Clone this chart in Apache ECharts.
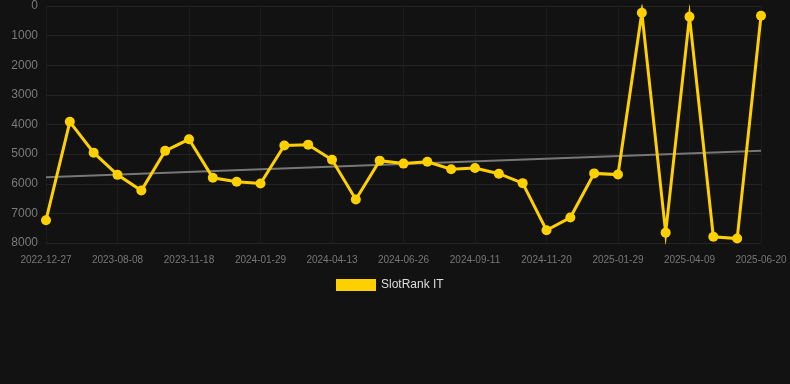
<!DOCTYPE html>
<html>
<head>
<meta charset="utf-8">
<script src="https://cdn.jsdelivr.net/npm/echarts@6/dist/echarts.min.js"></script>
<style>
  html, body { margin: 0; padding: 0; background: #121212; }
  #chart { width: 790px; height: 384px; }
</style>
</head>
<body>
<div id="chart"></div>
<script>
// dates on the x axis (only every third one is shown as a label)
const dates = [
  '2022-12-27', '2023-03-10', '2023-05-24', '2023-08-08', '2023-09-12', '2023-10-15',
  '2023-11-18', '2023-12-12', '2024-01-05', '2024-01-29', '2024-02-22', '2024-03-18',
  '2024-04-13', '2024-05-07', '2024-06-01', '2024-06-26', '2024-07-24', '2024-08-17',
  '2024-09-11', '2024-10-05', '2024-10-28', '2024-11-20', '2024-12-14', '2025-01-06',
  '2025-01-29', '2025-02-21', '2025-03-16', '2025-04-09', '2025-05-03', '2025-05-27',
  '2025-06-20'
]

const rankValues = [
  7230, 3910, 4950, 5700, 6230, 4890, 4500, 5800, 5930, 5990, 4710,
  4680, 5190, 6530, 5220, 5320, 5260, 5510, 5470, 5660, 5980,
  7570, 7140, 5650, 5690, 225, 7650, 360, 7790, 7850, 330
]

// trend line, first and last point
const trendEnds = [5780, 4890]

const trendData = dates.map((d, i) => {
  if (i === 0) return trendEnds[0]
  if (i === dates.length - 1) return trendEnds[1]
  return null
})

const chart = echarts.init(document.getElementById('chart'))

const option = {
  backgroundColor: '#121212',
  animation: false,
  grid: {
    left: 46,
    right: 29,
    top: 6,
    bottom: 141
  },
  legend: {
    data: ['SlotRank IT'],
    top: 279,
    left: 336,
    padding: 0,
    itemWidth: 40,
    itemHeight: 12,
    itemGap: 6,
    icon: 'rect',
    textStyle: {
      color: '#dddddd',
      fontSize: 12,
      fontFamily: 'Liberation Sans, Arial, sans-serif'
    }
  },
  xAxis: {
    type: 'category',
    data: dates,
    boundaryGap: false,
    axisLine: { show: false },
    axisTick: { show: false },
    axisLabel: {
      interval: 2,
      color: '#777777',
      fontSize: 10,
      margin: 12,
      fontFamily: 'Liberation Sans, Arial, sans-serif'
    },
    splitLine: {
      show: true,
      interval: 2,
      lineStyle: { color: '#1c1c1c', width: 1 }
    }
  },
  yAxis: {
    type: 'value',
    inverse: true,
    min: 0,
    max: 8000,
    interval: 1000,
    axisLine: { show: false },
    axisTick: { show: false },
    axisLabel: {
      color: '#7a7a7a',
      fontSize: 12,
      margin: 8,
      formatter: (v) => String(v),
      fontFamily: 'Liberation Sans, Arial, sans-serif'
    },
    splitLine: {
      lineStyle: { color: '#242424', width: 1 }
    }
  },
  series: [
    {
      name: 'Trend',
      type: 'line',
      data: trendData,
      connectNulls: true,
      symbol: 'none',
      silent: true,
      lineStyle: { color: '#777777', width: 2 },
      z: 1
    },
    {
      name: 'SlotRank IT',
      type: 'line',
      data: rankValues,
      symbol: 'circle',
      symbolSize: 10,
      itemStyle: { color: '#ffd000' },
      lineStyle: {
        color: '#ffd000',
        width: 3,
        join: 'miter',
        miterLimit: 40
      },
      z: 2
    }
  ]
}

chart.setOption(option)
</script>
</body>
</html>
